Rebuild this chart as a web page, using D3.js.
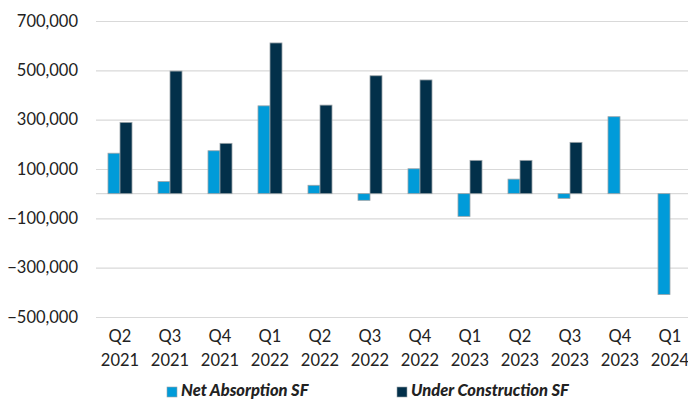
<!DOCTYPE html>
<html>
<head>
<meta charset="utf-8">
<script src="https://cdn.jsdelivr.net/npm/d3@7"></script>
<style>
    body { margin: 0; background: #fff; }
    svg text { font-family: Lato, "Open Sans", sans-serif; fill: #222; }
</style>
</head>
<body>
<div id="chart"></div>
<script>
// quarters, two lines per label
const quarters = ["Q2", "Q3", "Q4", "Q1", "Q2", "Q3", "Q4", "Q1", "Q2", "Q3", "Q4", "Q1"];
const years = ["2021", "2021", "2021", "2022", "2022", "2022", "2022", "2023", "2023", "2023", "2023", "2024"];

// values
const netAbsorption = [164000, 49000, 174000, 356000, 34000, -27000, 101000, -92000, 59000, -19000, 312000, -409000];
const underConstruction = [289000, 497000, 204000, 611000, 359000, 478000, 461000, 135000, 135000, 208000, 0, 0];

const seriesNames = ["Net Absorption SF", "Under Construction SF"];
const seriesColors = ["#009bd9", "#02304a"];
const yTicks = [700000, 500000, 300000, 100000, -100000, -300000, -500000];

const width = 688, height = 400;
const svg = d3.select("#chart")
    .append("svg")
    .attr("width", width)
    .attr("height", height);

// scales
const cats = quarters.map((q, i) => i);
const x0 = d3.scaleBand()
    .domain(cats)
    .range([95, 695])
    .paddingInner(0.52)
    .paddingOuter(0.26);

const x1 = d3.scaleBand()
    .domain(seriesNames)
    .range([0, x0.bandwidth()]);

const y = d3.scaleLinear()
    .domain([-500000, 700000])
    .range([317, 21]);

// gridlines + y labels
const yAxis = svg.append("g")
    .attr("transform", "translate(96,0)")
    .call(d3.axisLeft(y)
        .tickValues(yTicks)
        .tickSize(-(width - 96))
        .tickPadding(18)
        .tickFormat(d3.format(",")))
    .call(g => g.select(".domain").remove());

yAxis.selectAll(".tick line")
    .attr("stroke", "#d9d9d9")
    .attr("stroke-width", 1.2);
yAxis.selectAll(".tick text")
    .style("font-size", "16.5px")
    .attr("fill", "#222");

// zero line
svg.append("line")
    .attr("x1", 96)
    .attr("x2", width)
    .attr("y1", y(0))
    .attr("y2", y(0))
    .attr("stroke", "#d9d9d9")
    .attr("stroke-width", 1.2);

// bars
const rows = cats.map(i => ({
    i: i,
    vals: [
        { name: seriesNames[0], v: netAbsorption[i], c: seriesColors[0] },
        { name: seriesNames[1], v: underConstruction[i], c: seriesColors[1] }
    ].filter(d => d.v !== 0)
}));

svg.append("g")
    .selectAll("g")
    .data(rows)
    .join("g")
    .attr("transform", d => "translate(" + x0(d.i) + ",0)")
    .selectAll("rect")
    .data(d => d.vals)
    .join("rect")
    .attr("x", d => x1(d.name))
    .attr("y", d => y(Math.max(0, d.v)))
    .attr("width", x1.bandwidth())
    .attr("height", d => Math.abs(y(d.v) - y(0)))
    .attr("fill", d => d.c)
    .attr("stroke", "#9aa3a8")
    .attr("stroke-width", 0.8);

// x labels
const xl = svg.append("g")
    .selectAll("text")
    .data(cats)
    .join("text")
    .attr("text-anchor", "middle")
    .style("font-size", "16.5px")
    .attr("x", d => x0(d) + x0.bandwidth() / 2);

xl.append("tspan")
    .attr("x", d => x0(d) + x0.bandwidth() / 2)
    .attr("y", 342)
    .text(d => quarters[d]);
xl.append("tspan")
    .attr("x", d => x0(d) + x0.bandwidth() / 2)
    .attr("y", 366)
    .text(d => years[d]);

// legend
const legendX = [167, 397];
const legend = svg.append("g")
    .selectAll("g")
    .data(seriesNames)
    .join("g")
    .attr("transform", (d, i) => "translate(" + legendX[i] + ",387)");

legend.append("rect")
    .attr("width", 10)
    .attr("height", 10)
    .attr("fill", (d, i) => seriesColors[i])
    .attr("stroke", "#9aa3a8")
    .attr("stroke-width", 0.6);

legend.append("text")
    .attr("x", 14)
    .attr("y", 8.5)
    .style("font-size", "16.5px")
    .style("font-weight", "900")
    .style("font-style", "italic")
    .text(d => d);
</script>
</body>
</html>
